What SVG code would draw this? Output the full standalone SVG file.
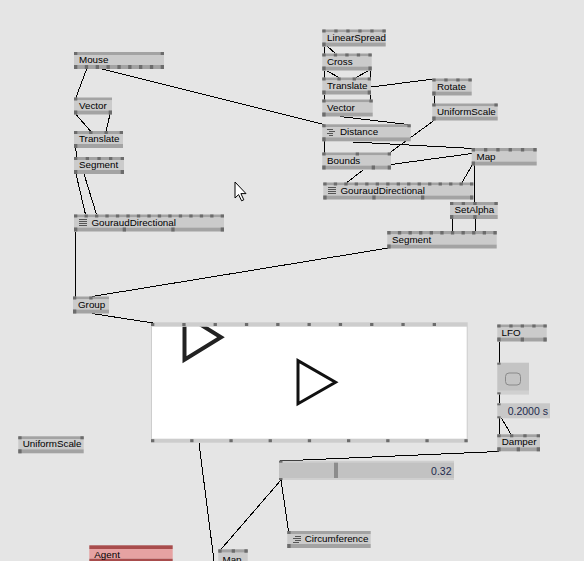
<svg xmlns="http://www.w3.org/2000/svg" width="584" height="561" viewBox="0 0 584 561">
<style>
.bar{fill:#a3a3a3}.lab{fill:#cbcbcb}.pin{fill:#6c6c6c}
.t{font-family:"Liberation Sans",Arial,sans-serif;font-size:9.8px;fill:#000}
.v{font-family:"Liberation Sans",Arial,sans-serif;font-size:10.5px;fill:#1e2a4e}
.ico{stroke:#555;stroke-width:1;fill:none;shape-rendering:crispEdges}
.links line{stroke:#000;stroke-width:1}
</style>
<rect width="584" height="561" fill="#e5e5e5"/>

<!-- Renderer window -->
<g id="renderer">
<rect x="151" y="322.3" width="316.7" height="120.4" fill="#cdcdcd"/>
<rect x="152" y="326.7" width="314.7" height="112" fill="#fff"/>
<svg x="152" y="326.7" width="314.7" height="112" overflow="hidden">
<polygon points="32.5,-12 32.5,33 69,10.5" fill="none" stroke="#222" stroke-width="4"/>
<polygon points="146,34 146,77 183.5,55.5" fill="none" stroke="#111" stroke-width="3"/>
</svg>
<g class="pin">
<rect x="151" y="323" width="3.3" height="3"/><rect x="182.3" y="323" width="3.3" height="3"/><rect x="213.6" y="323" width="3.3" height="3"/><rect x="244.9" y="323" width="3.3" height="3"/><rect x="276.2" y="323" width="3.3" height="3"/><rect x="307.5" y="323" width="3.3" height="3"/><rect x="338.8" y="323" width="3.3" height="3"/><rect x="370.1" y="323" width="3.3" height="3"/><rect x="401.4" y="323" width="3.3" height="3"/><rect x="432.7" y="323" width="3.3" height="3"/>
<rect x="151" y="439.2" width="3.3" height="3"/><rect x="190.2" y="439.2" width="3.3" height="3"/><rect x="229.4" y="439.2" width="3.3" height="3"/><rect x="268.6" y="439.2" width="3.3" height="3"/><rect x="307.8" y="439.2" width="3.3" height="3"/><rect x="347" y="439.2" width="3.3" height="3"/><rect x="386.2" y="439.2" width="3.3" height="3"/><rect x="425.4" y="439.2" width="3.3" height="3"/><rect x="464.4" y="439.2" width="3.3" height="3"/>
</g>
</g>

<g class="links" shape-rendering="crispEdges">
<line x1="87" y1="68" x2="76" y2="97.5"/>
<line x1="98" y1="68" x2="324" y2="124.5"/>
<line x1="76" y1="114.5" x2="90.5" y2="131"/>
<line x1="110" y1="114.5" x2="106" y2="131"/>
<line x1="75.5" y1="148" x2="77" y2="157"/>
<line x1="76" y1="174" x2="85.5" y2="214.5"/>
<line x1="84" y1="174" x2="96.5" y2="214.5"/>
<line x1="75.5" y1="231.5" x2="75.5" y2="296.5"/>
<line x1="388.5" y1="248" x2="92" y2="296.5"/>
<line x1="92" y1="313.5" x2="153" y2="323"/>
<line x1="324" y1="46.5" x2="324" y2="53.5"/>
<line x1="327.5" y1="46.5" x2="335.5" y2="53.5"/>
<line x1="324" y1="70.5" x2="324" y2="77.5"/>
<line x1="327" y1="71" x2="339" y2="77.5"/>
<line x1="368" y1="71" x2="356" y2="77.5"/>
<line x1="370" y1="70.5" x2="370" y2="77.5"/>
<line x1="371" y1="87" x2="434" y2="79"/>
<line x1="324" y1="94.5" x2="324" y2="99.5"/>
<line x1="370.5" y1="94.5" x2="370.5" y2="99.5"/>
<line x1="340" y1="116.5" x2="408" y2="124.5"/>
<line x1="324" y1="141.3" x2="324" y2="152.5"/>
<line x1="353" y1="142" x2="473.5" y2="148.5"/>
<line x1="434" y1="120.5" x2="390" y2="152.5"/>
<line x1="434" y1="95.5" x2="434" y2="103.5"/>
<line x1="391" y1="164.5" x2="472" y2="153.5"/>
<line x1="363" y1="170" x2="347" y2="182.5"/>
<line x1="472" y1="165.5" x2="462" y2="182.5"/>
<line x1="474.5" y1="165" x2="474.5" y2="202"/>
<line x1="452" y1="219" x2="452" y2="231"/>
<line x1="475" y1="219" x2="475" y2="231"/>
<line x1="499" y1="341.5" x2="499" y2="362.7"/>
<line x1="499" y1="394.3" x2="499" y2="403.3"/>
<line x1="499" y1="418.3" x2="499" y2="434.3"/>
<line x1="501.5" y1="418.3" x2="511" y2="434.3"/>
<line x1="499" y1="451.5" x2="280.5" y2="461"/>
<line x1="281" y1="480" x2="288.5" y2="531"/>
<line x1="281" y1="480" x2="221" y2="549.3"/>
<line x1="199" y1="443" x2="214" y2="561"/>
</g>

<g id="mouse">
<rect class="bar" x="74" y="52" width="90" height="3"/><rect class="lab" x="74" y="55" width="90" height="10"/><rect class="bar" x="74" y="65" width="90" height="4"/>
<g class="pin"><rect x="74" y="52" width="3.3" height="3"/><rect x="160.7" y="52" width="3.3" height="3"/>
<rect x="74" y="65" width="3.3" height="4"/><rect x="84.8" y="65" width="3.3" height="4"/><rect x="95.7" y="65" width="3.3" height="4"/><rect x="106.5" y="65" width="3.3" height="4"/><rect x="117.4" y="65" width="3.3" height="4"/><rect x="128.2" y="65" width="3.3" height="4"/><rect x="139" y="65" width="3.3" height="4"/><rect x="149.9" y="65" width="3.3" height="4"/><rect x="160.7" y="65" width="3.3" height="4"/></g>
<text class="t" x="79" y="63">Mouse</text>
</g>

<g id="vector-left">
<rect class="bar" x="74" y="97.5" width="38" height="3"/><rect class="lab" x="74" y="100.5" width="38" height="10"/><rect class="bar" x="74" y="110.5" width="38" height="4"/>
<g class="pin"><rect x="74" y="97.5" width="3.3" height="3"/><rect x="74" y="110.5" width="3.3" height="4"/><rect x="108.7" y="110.5" width="3.3" height="4"/></g>
<text class="t" x="79" y="108.5">Vector</text>
</g>

<g id="translate-left">
<rect class="bar" x="74" y="131" width="49" height="3"/><rect class="lab" x="74" y="134" width="49" height="10"/><rect class="bar" x="74" y="144" width="49" height="4"/>
<g class="pin"><rect x="74" y="131" width="3.3" height="3"/><rect x="89.2" y="131" width="3.3" height="3"/><rect x="104.5" y="131" width="3.3" height="3"/><rect x="119.7" y="131" width="3.3" height="3"/><rect x="74" y="144" width="3.3" height="4"/></g>
<text class="t" x="79" y="142">Translate</text>
</g>

<g id="segment-left">
<rect class="bar" x="74" y="157" width="50" height="3"/><rect class="lab" x="74" y="160" width="50" height="10"/><rect class="bar" x="74" y="170" width="50" height="4"/>
<g class="pin"><rect x="74" y="157" width="3.3" height="3"/><rect x="85.7" y="157" width="3.3" height="3"/><rect x="97.4" y="157" width="3.3" height="3"/><rect x="109" y="157" width="3.3" height="3"/><rect x="120.7" y="157" width="3.3" height="3"/><rect x="74" y="170" width="3.3" height="4"/><rect x="120.7" y="170" width="3.3" height="4"/></g>
<text class="t" x="79" y="168">Segment</text>
</g>

<g id="gouraud-left">
<rect class="bar" x="74" y="214.5" width="150" height="3"/><rect class="lab" x="74" y="217.5" width="150" height="10"/><rect class="bar" x="74" y="227.5" width="150" height="4"/>
<g class="pin">
<rect x="74" y="214.5" width="3.3" height="3"/><rect x="84.5" y="214.5" width="3.3" height="3"/><rect x="95" y="214.5" width="3.3" height="3"/><rect x="105.4" y="214.5" width="3.3" height="3"/><rect x="115.9" y="214.5" width="3.3" height="3"/><rect x="126.4" y="214.5" width="3.3" height="3"/><rect x="136.9" y="214.5" width="3.3" height="3"/><rect x="147.4" y="214.5" width="3.3" height="3"/><rect x="157.8" y="214.5" width="3.3" height="3"/><rect x="168.3" y="214.5" width="3.3" height="3"/><rect x="178.8" y="214.5" width="3.3" height="3"/><rect x="189.3" y="214.5" width="3.3" height="3"/><rect x="199.8" y="214.5" width="3.3" height="3"/><rect x="210.2" y="214.5" width="3.3" height="3"/><rect x="220.7" y="214.5" width="3.3" height="3"/>
<rect x="74" y="227.5" width="3.3" height="4"/><rect x="122.7" y="227.5" width="3.3" height="4"/><rect x="171.3" y="227.5" width="3.3" height="4"/><rect x="220.7" y="227.5" width="3.3" height="4"/>
</g>
<path class="ico" d="M79 219.5h8M79 221.5h8M79 223.5h8M79 225.5h8"/>
<text class="t" x="91.5" y="225.5">GouraudDirectional</text>
</g>

<g id="group">
<rect class="bar" x="73" y="296.5" width="36" height="3"/><rect class="lab" x="73" y="299.5" width="36" height="10"/><rect class="bar" x="73" y="309.5" width="36" height="4"/>
<g class="pin"><rect x="73" y="296.5" width="3.3" height="3"/><rect x="89.3" y="296.5" width="3.3" height="3"/><rect x="73" y="309.5" width="3.3" height="4"/></g>
<text class="t" x="78" y="307.5">Group</text>
</g>

<g id="linearspread">
<rect class="bar" x="322.3" y="29.5" width="63.4" height="3"/><rect class="lab" x="322.3" y="32.5" width="63.4" height="10"/><rect class="bar" x="322.3" y="42.5" width="63.4" height="4"/>
<g class="pin"><rect x="322.3" y="29.5" width="3.3" height="3"/><rect x="334.3" y="29.5" width="3.3" height="3"/><rect x="346.3" y="29.5" width="3.3" height="3"/><rect x="358.3" y="29.5" width="3.3" height="3"/><rect x="370.3" y="29.5" width="3.3" height="3"/><rect x="382.4" y="29.5" width="3.3" height="3"/><rect x="322.3" y="42.5" width="3.3" height="4"/></g>
<text class="t" x="327" y="40.5">LinearSpread</text>
</g>

<g id="cross">
<rect class="bar" x="322.3" y="53.5" width="49.4" height="3"/><rect class="lab" x="322.3" y="56.5" width="49.4" height="10"/><rect class="bar" x="322.3" y="66.5" width="49.4" height="4"/>
<g class="pin"><rect x="322.3" y="53.5" width="3.3" height="3"/><rect x="333.8" y="53.5" width="3.3" height="3"/><rect x="345.3" y="53.5" width="3.3" height="3"/><rect x="356.8" y="53.5" width="3.3" height="3"/><rect x="368.4" y="53.5" width="3.3" height="3"/><rect x="322.3" y="66.5" width="3.3" height="4"/><rect x="368.4" y="66.5" width="3.3" height="4"/></g>
<text class="t" x="327" y="64.5">Cross</text>
</g>

<g id="translate-right">
<rect class="bar" x="322.3" y="77.5" width="48.7" height="3"/><rect class="lab" x="322.3" y="80.5" width="48.7" height="10"/><rect class="bar" x="322.3" y="90.5" width="48.7" height="4"/>
<g class="pin"><rect x="322.3" y="77.5" width="3.3" height="3"/><rect x="337.4" y="77.5" width="3.3" height="3"/><rect x="352.6" y="77.5" width="3.3" height="3"/><rect x="367.7" y="77.5" width="3.3" height="3"/><rect x="322.3" y="90.5" width="3.3" height="4"/><rect x="367.7" y="90.5" width="3.3" height="4"/></g>
<text class="t" x="327" y="88.5">Translate</text>
</g>

<g id="vector-right">
<rect class="bar" x="322.3" y="99.5" width="50.4" height="3"/><rect class="lab" x="322.3" y="102.5" width="50.4" height="10"/><rect class="bar" x="322.3" y="112.5" width="50.4" height="4"/>
<g class="pin"><rect x="322.3" y="99.5" width="3.3" height="3"/><rect x="369.4" y="99.5" width="3.3" height="3"/><rect x="322.3" y="112.5" width="3.3" height="4"/></g>
<text class="t" x="327" y="110.5">Vector</text>
</g>

<g id="distance">
<rect class="bar" x="322.3" y="124.3" width="88.4" height="3"/><rect class="lab" x="322.3" y="127.3" width="88.4" height="10"/><rect class="bar" x="322.3" y="137.3" width="88.4" height="4"/>
<g class="pin"><rect x="322.3" y="124.3" width="3.3" height="3"/><rect x="407.4" y="124.3" width="3.3" height="3"/><rect x="322.3" y="137.3" width="3.3" height="4"/></g>
<path class="ico" d="M327 129.5h6M329 131.5h6M327 133.5h6M329 135.5h4"/>
<text class="t" x="340" y="135.3">Distance</text>
</g>

<g id="bounds">
<rect class="bar" x="322.3" y="152.5" width="68.7" height="3"/><rect class="lab" x="322.3" y="155.5" width="68.7" height="10"/><rect class="bar" x="322.3" y="165.5" width="68.7" height="4"/>
<g class="pin"><rect x="322.3" y="152.5" width="3.3" height="3"/><rect x="355.7" y="152.5" width="3.3" height="3"/><rect x="387.7" y="152.5" width="3.3" height="3"/><rect x="322.3" y="165.5" width="3.3" height="4"/><rect x="371.7" y="165.5" width="3.3" height="4"/><rect x="387.7" y="165.5" width="3.3" height="4"/></g>
<text class="t" x="327" y="163.5">Bounds</text>
</g>

<g id="gouraud-right">
<rect class="bar" x="323.3" y="182.5" width="150" height="3"/><rect class="lab" x="323.3" y="185.5" width="150" height="10"/><rect class="bar" x="323.3" y="195.5" width="150" height="4"/>
<g class="pin">
<rect x="323.3" y="182.5" width="3.3" height="3"/><rect x="333.8" y="182.5" width="3.3" height="3"/><rect x="344.3" y="182.5" width="3.3" height="3"/><rect x="354.7" y="182.5" width="3.3" height="3"/><rect x="365.2" y="182.5" width="3.3" height="3"/><rect x="375.7" y="182.5" width="3.3" height="3"/><rect x="386.2" y="182.5" width="3.3" height="3"/><rect x="396.7" y="182.5" width="3.3" height="3"/><rect x="407.1" y="182.5" width="3.3" height="3"/><rect x="417.6" y="182.5" width="3.3" height="3"/><rect x="428.1" y="182.5" width="3.3" height="3"/><rect x="438.6" y="182.5" width="3.3" height="3"/><rect x="449.1" y="182.5" width="3.3" height="3"/><rect x="459.5" y="182.5" width="3.3" height="3"/><rect x="470" y="182.5" width="3.3" height="3"/>
<rect x="323.3" y="195.5" width="3.3" height="4"/><rect x="372.3" y="195.5" width="3.3" height="4"/><rect x="421" y="195.5" width="3.3" height="4"/><rect x="470" y="195.5" width="3.3" height="4"/>
</g>
<path class="ico" d="M328 187.5h8M328 189.5h8M328 191.5h8M328 193.5h8"/>
<text class="t" x="340.5" y="193.5">GouraudDirectional</text>
</g>

<g id="rotate">
<rect class="bar" x="432.3" y="78.5" width="39.4" height="3"/><rect class="lab" x="432.3" y="81.5" width="39.4" height="10"/><rect class="bar" x="432.3" y="91.5" width="39.4" height="4"/>
<g class="pin"><rect x="432.3" y="78.5" width="3.3" height="3"/><rect x="444.3" y="78.5" width="3.3" height="3"/><rect x="456.3" y="78.5" width="3.3" height="3"/><rect x="468.4" y="78.5" width="3.3" height="3"/><rect x="432.3" y="91.5" width="3.3" height="4"/></g>
<text class="t" x="437" y="89.5">Rotate</text>
</g>

<g id="uniformscale-right">
<rect class="bar" x="432.3" y="103.5" width="65.4" height="3"/><rect class="lab" x="432.3" y="106.5" width="65.4" height="10"/><rect class="bar" x="432.3" y="116.5" width="65.4" height="4"/>
<g class="pin"><rect x="432.3" y="103.5" width="3.3" height="3"/><rect x="494.4" y="103.5" width="3.3" height="3"/><rect x="432.3" y="116.5" width="3.3" height="4"/></g>
<text class="t" x="437" y="114.5">UniformScale</text>
</g>

<g id="map">
<rect class="bar" x="471.7" y="148" width="65" height="3.5"/><rect class="lab" x="471.7" y="151.5" width="65" height="10"/><rect class="bar" x="471.7" y="161.5" width="65" height="4"/>
<g class="pin"><rect x="471.7" y="148" width="3.3" height="3.5"/><rect x="484" y="148" width="3.3" height="3.5"/><rect x="496.3" y="148" width="3.3" height="3.5"/><rect x="508.6" y="148" width="3.3" height="3.5"/><rect x="520.9" y="148" width="3.3" height="3.5"/><rect x="533.3" y="148" width="3.3" height="3.5"/><rect x="471.7" y="161.5" width="3.3" height="4"/></g>
<text class="t" x="476.5" y="159.5">Map</text>
</g>

<g id="setalpha">
<rect class="bar" x="450" y="202" width="47.7" height="3"/><rect class="lab" x="450" y="205" width="47.7" height="10"/><rect class="bar" x="450" y="215" width="47.7" height="4"/>
<g class="pin"><rect x="450" y="202" width="3.3" height="3"/><rect x="461.7" y="202" width="3.3" height="3"/><rect x="473.3" y="202" width="3.3" height="3"/><rect x="494.4" y="202" width="3.3" height="3"/><rect x="450" y="215" width="3.3" height="4"/><rect x="473.3" y="215" width="3.3" height="4"/></g>
<text class="t" x="454.5" y="213">SetAlpha</text>
</g>

<g id="segment-right">
<rect class="bar" x="387.3" y="231" width="109.4" height="3.5"/><rect class="lab" x="387.3" y="234.5" width="109.4" height="10"/><rect class="bar" x="387.3" y="244.5" width="109.4" height="4"/>
<g class="pin"><rect x="387.3" y="231" width="3.3" height="3.5"/><rect x="397.9" y="231" width="3.3" height="3.5"/><rect x="408.5" y="231" width="3.3" height="3.5"/><rect x="419.1" y="231" width="3.3" height="3.5"/><rect x="429.7" y="231" width="3.3" height="3.5"/><rect x="440.3" y="231" width="3.3" height="3.5"/><rect x="450.9" y="231" width="3.3" height="3.5"/><rect x="461.5" y="231" width="3.3" height="3.5"/><rect x="472.1" y="231" width="3.3" height="3.5"/><rect x="482.7" y="231" width="3.3" height="3.5"/><rect x="493.4" y="231" width="3.3" height="3.5"/><rect x="387.3" y="244.5" width="3.3" height="4"/></g>
<text class="t" x="392" y="242.5">Segment</text>
</g>

<g id="lfo">
<rect class="bar" x="497.3" y="324.5" width="49.4" height="3"/><rect class="lab" x="497.3" y="327.5" width="49.4" height="10"/><rect class="bar" x="497.3" y="337.5" width="49.4" height="4"/>
<g class="pin"><rect x="497.3" y="324.5" width="3.3" height="3"/><rect x="509.3" y="324.5" width="3.3" height="3"/><rect x="520.7" y="324.5" width="3.3" height="3"/><rect x="532.3" y="324.5" width="3.3" height="3"/><rect x="543.4" y="324.5" width="3.3" height="3"/><rect x="497.3" y="337.5" width="3.3" height="4"/><rect x="520.7" y="337.5" width="3.3" height="4"/><rect x="543.4" y="337.5" width="3.3" height="4"/></g>
<text class="t" x="501.5" y="335.5">LFO</text>
</g>

<g id="toggle">
<rect x="497.3" y="362.7" width="31.7" height="31.6" fill="#c4c4c4"/>
<rect x="497.3" y="390.5" width="31.7" height="3.8" fill="#d0d0d0"/>
<rect x="505.5" y="373" width="15" height="12" rx="3.5" fill="none" stroke="#8a8a8a" stroke-width="1"/>
<g class="pin"><rect x="497.3" y="362.7" width="3.3" height="2"/><rect x="497.3" y="392.3" width="3.3" height="2"/></g>
</g>

<g id="iobox-time">
<rect x="497.3" y="403.3" width="52.7" height="15" fill="#c8c8c8"/>
<g class="pin"><rect x="497.3" y="403.3" width="3.3" height="2"/><rect x="497.3" y="416.3" width="3.3" height="2"/></g>
<text class="v" x="507.7" y="414.7">0.2000 s</text>
</g>

<g id="damper">
<rect class="bar" x="497.3" y="434.3" width="42.7" height="3"/><rect class="lab" x="497.3" y="437.3" width="42.7" height="10"/><rect class="bar" x="497.3" y="447.3" width="42.7" height="4"/>
<g class="pin"><rect x="497.3" y="434.3" width="3.3" height="3"/><rect x="510" y="434.3" width="3.3" height="3"/><rect x="523.3" y="434.3" width="3.3" height="3"/><rect x="536.7" y="434.3" width="3.3" height="3"/><rect x="497.3" y="447.3" width="3.3" height="4"/><rect x="516.7" y="447.3" width="3.3" height="4"/><rect x="536.7" y="447.3" width="3.3" height="4"/></g>
<text class="t" x="501.7" y="445.3">Damper</text>
</g>

<g id="slider">
<rect x="279" y="460.7" width="175" height="19.3" fill="#cfcfcf"/>
<rect x="279" y="462.7" width="175" height="15.3" fill="#c2c2c2"/>
<rect x="334" y="462.7" width="4" height="15.3" fill="#8c8c8c"/>
<g class="pin"><rect x="279" y="460.7" width="3.5" height="2"/><rect x="279" y="478" width="3.5" height="2"/></g>
<text class="v" x="451.5" y="474.7" text-anchor="end">0.32</text>
</g>

<g id="uniformscale-left">
<rect class="bar" x="18.3" y="436.3" width="65.4" height="3"/><rect class="lab" x="18.3" y="439.3" width="65.4" height="10"/><rect class="bar" x="18.3" y="449.3" width="65.4" height="4"/>
<g class="pin"><rect x="18.3" y="436.3" width="3.3" height="3"/><rect x="80.4" y="436.3" width="3.3" height="3"/><rect x="18.3" y="449.3" width="3.3" height="4"/></g>
<text class="t" x="22.7" y="447.3">UniformScale</text>
</g>

<g id="circumference">
<rect class="bar" x="287.3" y="531" width="83.4" height="3"/><rect class="lab" x="287.3" y="534" width="83.4" height="10"/><rect class="bar" x="287.3" y="544" width="83.4" height="4"/>
<g class="pin"><rect x="287.3" y="531" width="3.3" height="3"/><rect x="287.3" y="544" width="3.3" height="4"/></g>
<path class="ico" d="M295 536.5h6M293 538.5h8M295 540.5h6M293 542.5h6"/>
<text class="t" x="304.7" y="542">Circumference</text>
</g>

<g id="agent">
<rect x="89.3" y="545.3" width="83.4" height="3.7" fill="#a84c4c"/>
<rect x="89.3" y="549" width="83.4" height="9.7" fill="#e6a2a2"/>
<rect x="89.3" y="558.7" width="83.4" height="2.3" fill="#a84c4c"/>
<text class="t" x="94.3" y="557.5">Agent</text>
</g>

<g id="map-bottom">
<rect class="bar" x="218.3" y="549.3" width="29.4" height="3.4"/><rect class="lab" x="218.3" y="552.7" width="29.4" height="10"/>
<g class="pin"><rect x="218.3" y="549.3" width="3.3" height="3.4"/><rect x="231.7" y="549.3" width="3.3" height="3.4"/><rect x="244.4" y="549.3" width="3.3" height="3.4"/></g>
<text class="t" x="222.5" y="562.5">Map</text>
</g>

<g id="cursor">
<polygon points="235,182 235,198 238.6,194.6 241.6,200.8 243.8,199.8 240.9,193.6 246,193.6" fill="#fff" stroke="#000" stroke-width="1" stroke-linejoin="miter"/>
</g>
</svg>
